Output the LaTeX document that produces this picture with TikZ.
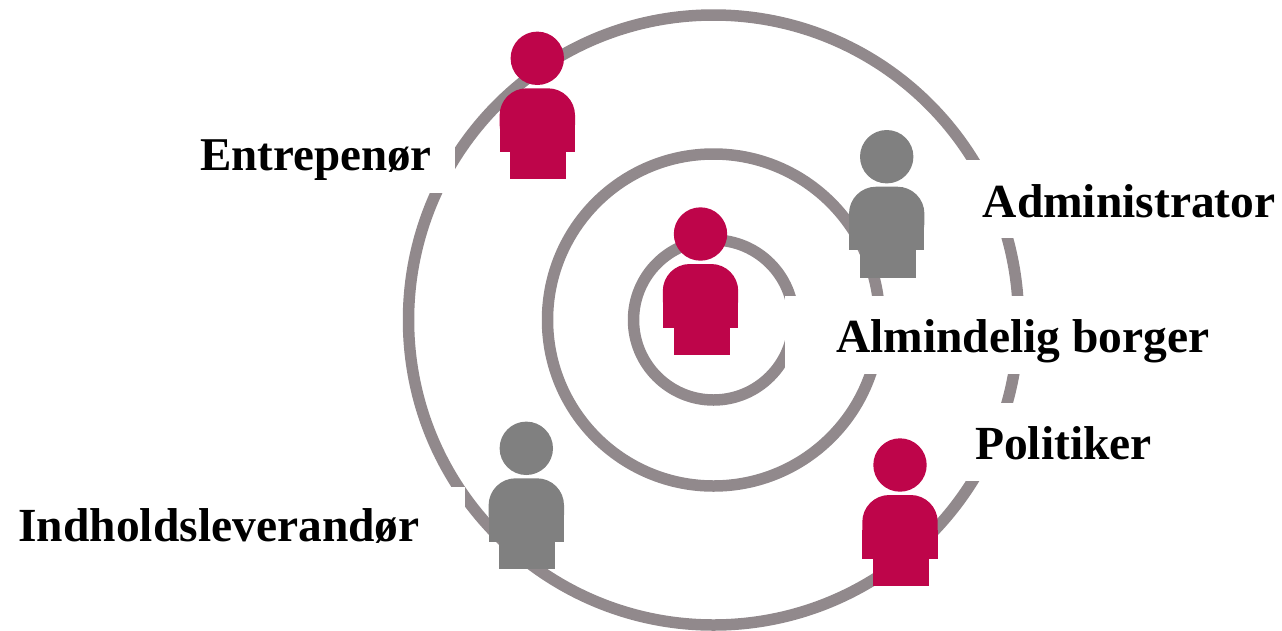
\documentclass[tikz,border=0pt]{standalone}
\usepackage{fontspec}
\setmainfont{Liberation Serif}
\definecolor{ring}{RGB}{145,137,140}
\definecolor{rosso}{RGB}{190,5,74}
\definecolor{grigio}{RGB}{128,128,128}
\tikzset{
  ringline/.style={draw=ring, line width=11.5},
  cover/.style={fill=white},
  lbl/.style={font=\bfseries\fontsize{47.5}{56}\selectfont, inner sep=0pt, anchor=base west, text=black},
  person/.pic={
    \fill (0,0) circle[radius=26.7];
    \fill[rounded corners=27] (-37.7,30) rectangle (37.7,93.5);
    \fill (-37.7,65) rectangle (37.7,93.5);
    \fill (-27,93) rectangle (29,121);
  }
}
\begin{document}
\begin{tikzpicture}[x=1pt, y=-1pt]
\useasboundingbox (0,0) rectangle (1282,630);
\coordinate (c) at (713.5,320);
% rings
\draw[ringline] (c) circle[radius=80];
\draw[ringline] (c) circle[radius=166];
\draw[ringline] (c) circle[radius=305];
% label backgrounds
\fill[cover] (190,114) rectangle (455,193);
\fill[cover] (960,160) rectangle (1282,237.5);
\fill[cover] (785,296) rectangle (1230,374);
\fill[cover] (960,402.5) rectangle (1210,481);
\fill[cover] (8,487) rectangle (465,563);
% labels
\node[lbl, font=\bfseries\fontsize{47}{56}\selectfont] (entre) at (200,170.7) {Entrepenør};
\node[lbl] (admin) at (982.5,217.3) {Administrator};
\node[lbl] (borger) at (836,352.7) {Almindelig borger};
\node[lbl] (polit) at (975,459.3) {Politiker};
\node[lbl] (indh) at (18.3,541.7) {Indholdsleverandør};
% people
\pic[fill=rosso] at (700.5,234) {person};
\pic[fill=rosso] at (537.3,58.3) {person};
\pic[fill=grigio] at (886.7,156.7) {person};
\pic[fill=rosso] at (900,465) {person};
\pic[fill=grigio] at (526.3,448.3) {person};
\end{tikzpicture}
\end{document}
